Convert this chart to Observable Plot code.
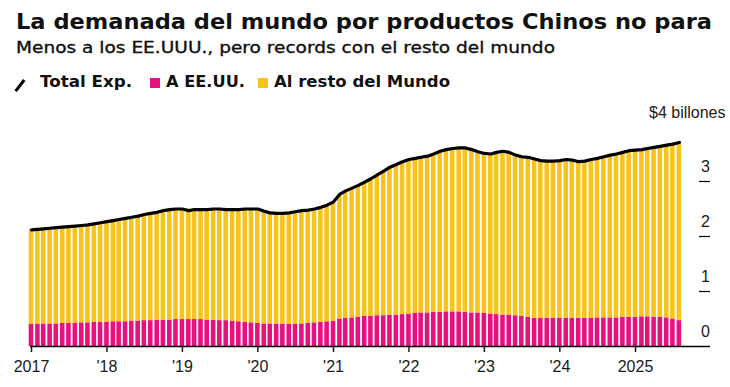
<!DOCTYPE html>
<html><head><meta charset="utf-8">
<script src="https://cdn.jsdelivr.net/npm/d3@7"></script>
<script src="https://cdn.jsdelivr.net/npm/@observablehq/plot@0.6"></script>
<style>
body{margin:0;background:#fff;}
#wrap{width:730px;height:387px;position:relative;overflow:hidden;background:#fff;color:#111;}
#head{position:relative;width:730px;height:100px;font-family:"DejaVu Sans",sans-serif;}
.t{position:absolute;white-space:nowrap;line-height:1;transform-origin:0 0;}
#title{left:16px;top:12px;font-size:21px;font-weight:bold;}
#sub{left:16px;top:41px;font-size:15.5px;-webkit-text-stroke:0.35px #111;}
.lg{top:75px;font-size:15px;font-weight:bold;}
.sw{position:absolute;width:10px;height:10px;top:78px;}
#lineIcon{position:absolute;left:13px;top:84px;width:14px;height:3.2px;background:#000;transform:rotate(-52deg);}
#chart svg{display:block;}
</style></head>
<body><div id="wrap">
<div id="head">
  <div class="t" id="title" data-w="696">La demanada del mundo por productos Chinos no para</div>
  <div class="t" id="sub" data-w="539">Menos a los EE.UUU., pero records con el resto del mundo</div>
  <div id="lineIcon"></div>
  <div class="t lg" id="l1" style="left:40px" data-w="92">Total Exp.</div>
  <div class="sw" style="left:150px;background:#e6107e"></div>
  <div class="t lg" id="l2" style="left:166px" data-w="79">A EE.UU.</div>
  <div class="sw" style="left:258px;background:#f8c31c"></div>
  <div class="t lg" id="l3" style="left:274px" data-w="176">Al resto del Mundo</div>
</div>
<div id="chart"></div>
</div>
<script>
const PINK = "#e6107e";
const YELLOW = "#f8c31c";

// Monthly, Jan 2017 .. Aug 2025
const totalExp = [
  2.12,2.13,2.14,2.15,2.16,2.17,2.18,2.19,2.20,2.21,2.23,2.25,
  2.27,2.29,2.31,2.33,2.35,2.37,2.40,2.42,2.44,2.47,2.49,2.50,
  2.50,2.47,2.49,2.49,2.49,2.50,2.50,2.49,2.49,2.49,2.50,2.50,
  2.50,2.46,2.43,2.42,2.42,2.43,2.45,2.47,2.48,2.50,2.53,2.57,
  2.63,2.77,2.83,2.88,2.93,2.99,3.05,3.12,3.19,3.26,3.31,3.36,
  3.40,3.42,3.44,3.46,3.50,3.55,3.58,3.60,3.61,3.61,3.58,3.54,
  3.51,3.50,3.53,3.55,3.53,3.48,3.45,3.44,3.41,3.38,3.37,3.37,
  3.38,3.40,3.39,3.36,3.37,3.40,3.42,3.45,3.48,3.50,3.53,3.56,
  3.57,3.58,3.60,3.62,3.64,3.66,3.68,3.71
];
const usExp = [
  0.40,0.40,0.41,0.41,0.41,0.42,0.42,0.42,0.43,0.43,0.44,0.44,
  0.44,0.45,0.45,0.45,0.46,0.46,0.47,0.47,0.48,0.48,0.48,0.49,
  0.49,0.49,0.49,0.49,0.48,0.48,0.47,0.47,0.46,0.45,0.44,0.43,
  0.42,0.41,0.41,0.40,0.40,0.40,0.40,0.41,0.42,0.43,0.44,0.45,
  0.46,0.50,0.51,0.52,0.53,0.55,0.55,0.56,0.56,0.57,0.57,0.58,
  0.59,0.60,0.61,0.61,0.62,0.62,0.63,0.63,0.63,0.62,0.61,0.61,
  0.60,0.59,0.58,0.57,0.57,0.56,0.55,0.53,0.51,0.51,0.51,0.51,
  0.51,0.51,0.51,0.51,0.51,0.51,0.52,0.52,0.52,0.52,0.53,0.53,
  0.53,0.54,0.54,0.53,0.53,0.52,0.50,0.47
];
const xTickYears = [2017,2018,2019,2020,2021,2022,2023,2024,2025];
const xTickLabels = ["2017","'18","'19","'20","'21","'22","'23","'24","2025"];
const yTicks = [0,1,2,3];
const yUnitLabel = "$4 billones";

const start = new Date(Date.UTC(2017,0,1));
const half = 15.2 * 864e5;
const rows = totalExp.map((t,i)=>{
  const date = d3.utcMonth.offset(start, i);
  return {date, x1:new Date(+date-half), x2:new Date(+date+half), total:t, us:usExp[i]};
});
const tickDates = xTickYears.map(y=>new Date(Date.UTC(y,0,1)));
const labelOf = new Map(tickDates.map((d,i)=>[+d, xTickLabels[i]]));

const chart = Plot.plot({
  width:730, height:287,
  marginLeft:30, marginRight:20, marginTop:26, marginBottom:41,
  x:{type:"utc", domain:[start, new Date(Date.UTC(2025,0,1))], range:[31,635]},
  y:{domain:[0,4], axis:null},
  style:{fontFamily:"'Liberation Sans', Arial, sans-serif", fontSize:"16px", color:"#1a1a1a", background:"#fff"},
  marks:[
    Plot.rect(rows,{x1:"x1",x2:"x2",y1:0,y2:"us",fill:PINK,insetLeft:0.85,insetRight:0.85}),
    Plot.rect(rows,{x1:"x1",x2:"x2",y1:"us",y2:"total",fill:YELLOW,insetLeft:0.85,insetRight:0.85}),
    Plot.line(rows,{x:"date",y:"total",stroke:"#000",strokeWidth:3.2,strokeLinejoin:"round",strokeLinecap:"round"}),
    Plot.ruleY([0],{stroke:"#000",strokeWidth:1.4}),
    Plot.ruleY(yTicks.filter(d=>d>0),{insetLeft:669,stroke:"#000",strokeWidth:1.2}),
    Plot.text(yTicks,{y:d=>d,text:d=>String(d),frameAnchor:"right",dx:-5,dy:-15,textAnchor:"middle",fill:"#1a1a1a",fontSize:16}),
    Plot.text([4],{y:d=>d,text:()=>yUnitLabel,frameAnchor:"right",dx:15,dy:-14,textAnchor:"end",fill:"#1a1a1a",fontSize:16,letterSpacing:"0.3px"}),
    Plot.axisX({ticks:tickDates,tickFormat:d=>labelOf.get(+d),tickSize:6,tickPadding:8,strokeWidth:1.5,label:null,fontSize:16})
  ]
});
document.getElementById("chart").appendChild(chart);

document.querySelectorAll("[data-w]").forEach(el=>{
  const w = el.getBoundingClientRect().width;
  const target = +el.dataset.w;
  if (w>0) el.style.transform = `scaleX(${target/w})`;
});
</script>
</body></html>
